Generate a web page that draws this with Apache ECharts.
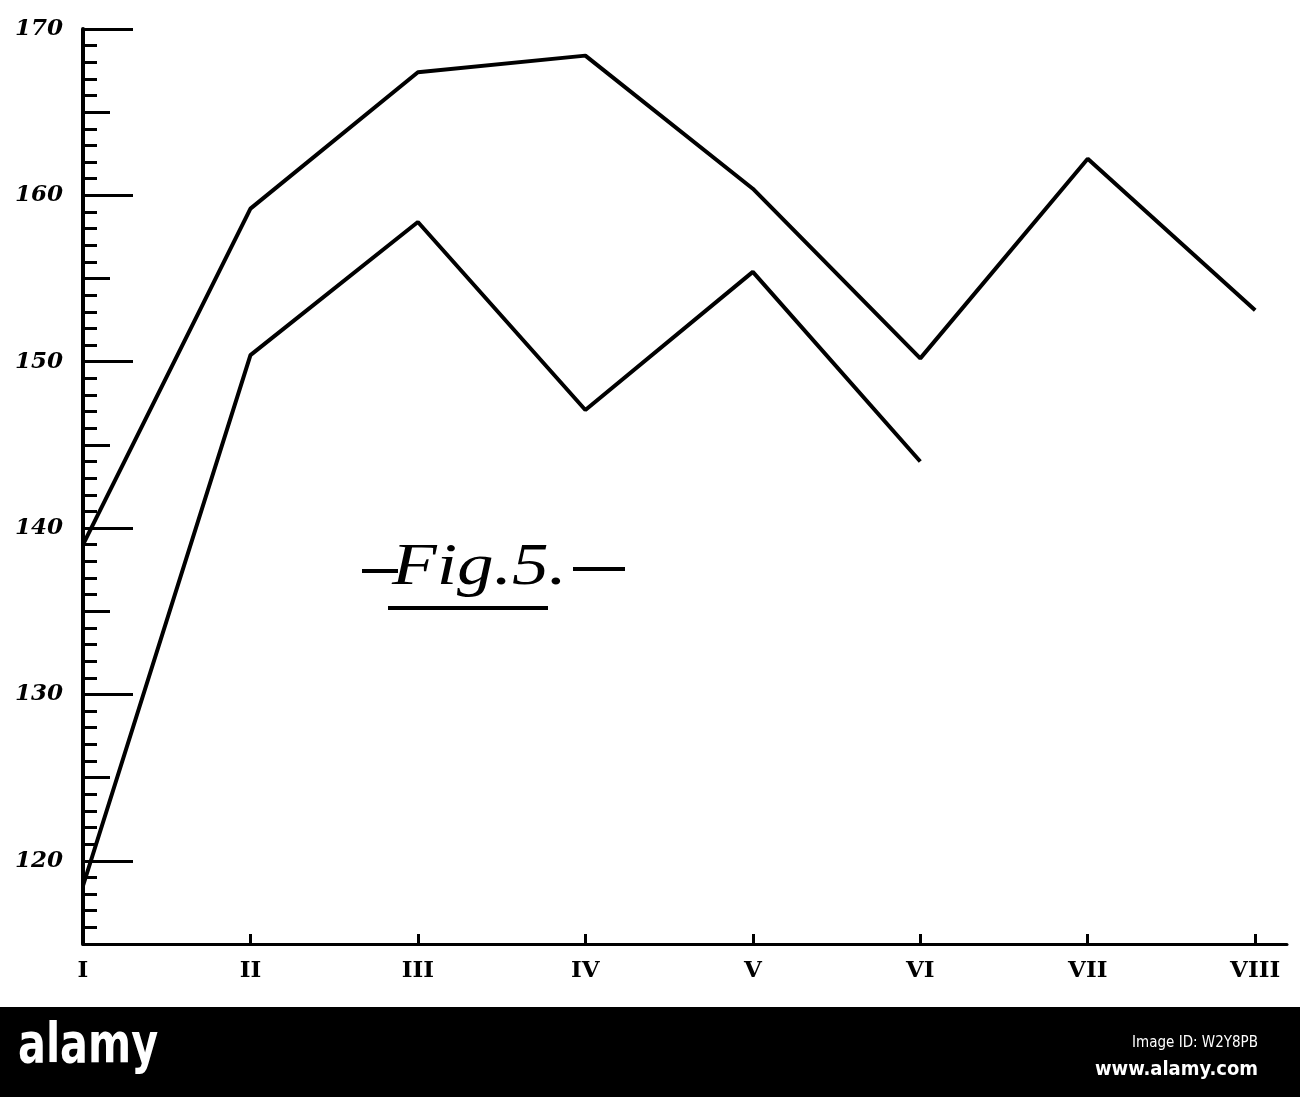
<!DOCTYPE html>
<html>
<head>
<meta charset="utf-8">
<title>Fig. 5</title>
<script src="https://cdn.jsdelivr.net/npm/echarts@6/dist/echarts.min.js"></script>
<style>
  html, body { margin: 0; padding: 0; background: #fff; }
  #chart { width: 1300px; height: 1097px; }
</style>
</head>
<body>
<div id="chart"></div>
<script>
// categories (x positions 1..8)
const categories = ["I", "II", "III", "IV", "V", "VI", "VII", "VIII"];
// upper curve, all eight periods
const upperValues = [139.0, 159.2, 167.4, 168.4, 160.4, 150.2, 162.2, 153.1];
// lower curve, stops at VI
const lowerValues = [118.5, 150.4, 158.4, 147.1, 155.4, 144.0];
// labelled ticks on the left
const yTickLabels = [120, 130, 140, 150, 160, 170];

const toPoints = vals => vals.map((v, i) => [i + 1, v]);

const ink = "#000";
const labelFont = {
  color: ink,
  fontFamily: "DejaVu Serif",
  fontStyle: "italic",
  fontWeight: "bold",
  fontSize: 23
};

const chart = echarts.init(document.getElementById("chart"));

chart.setOption({
  animation: false,
  backgroundColor: "#fff",
  grid: { left: 83, right: 13, top: 29, bottom: 153 },
  xAxis: {
    type: "value",
    min: 1,
    max: 8.19,
    interval: 1,
    splitLine: { show: false },
    axisLine: { lineStyle: { color: ink, width: 3 } },
    axisTick: { inside: true, length: 10, lineStyle: { color: ink, width: 3 } },
    axisLabel: {
      ...labelFont,
      fontStyle: "normal",
      fontWeight: 900,
      margin: 16,
      showMaxLabel: false,
      formatter: v => categories[v - 1] || ""
    }
  },
  yAxis: [
    {
      type: "value",
      min: 115,
      max: 170,
      interval: 5,
      splitLine: { show: false },
      axisLine: { lineStyle: { color: ink, width: 4 } },
      axisTick: { inside: true, length: 27, lineStyle: { color: ink, width: 3 } },
      minorTick: { show: true, splitNumber: 5, length: 14, lineStyle: { color: ink, width: 3 } },
      axisLabel: {
        ...labelFont,
        margin: 20,
        formatter: v => (yTickLabels.includes(v) ? String(v) : "")
      }
    },
    {
      type: "value",
      position: "left",
      min: 115,
      max: 170,
      splitLine: { show: false },
      axisLine: { show: false },
      axisLabel: { show: false },
      axisTick: {
        inside: true,
        length: 50,
        customValues: yTickLabels,
        lineStyle: { color: ink, width: 3 }
      }
    }
  ],
  series: [
    {
      type: "line",
      data: toPoints(upperValues),
      showSymbol: false,
      lineStyle: { color: ink, width: 4 }
    },
    {
      type: "line",
      data: toPoints(lowerValues),
      showSymbol: false,
      lineStyle: { color: ink, width: 4 }
    }
  ],
  graphic: [
    // figure caption
    { type: "line", shape: { x1: 362, y1: 571, x2: 398, y2: 571 }, style: { stroke: ink, lineWidth: 4 } },
    {
      type: "text", x: 392, y: 538, scaleX: 1.22,
      style: { text: "Fig.5.", fill: ink, font: "italic 60px 'Liberation Serif'" }
    },
    { type: "line", shape: { x1: 573, y1: 569, x2: 625, y2: 569 }, style: { stroke: ink, lineWidth: 4 } },
    { type: "line", shape: { x1: 388, y1: 608, x2: 548, y2: 608 }, style: { stroke: ink, lineWidth: 4 } },
    // stock-photo strip at the bottom
    { type: "rect", shape: { x: 0, y: 1007, width: 1300, height: 90 }, style: { fill: "#000" } },
    {
      type: "text", x: 18, y: 1020, scaleY: 1.2,
      style: { text: "alamy", fill: "#fff", font: "bold 46px 'Liberation Sans Narrow', 'DejaVu Sans Condensed', sans-serif" }
    },
    {
      type: "text", right: 42, top: 1036,
      style: { text: "Image ID: W2Y8PB", fill: "#fff", font: "15px 'DejaVu Sans Condensed', sans-serif" }
    },
    {
      type: "text", right: 42, top: 1060,
      style: { text: "www.alamy.com", fill: "#fff", font: "bold 20px 'DejaVu Sans Condensed', sans-serif" }
    }
  ]
});
</script>
</body>
</html>
